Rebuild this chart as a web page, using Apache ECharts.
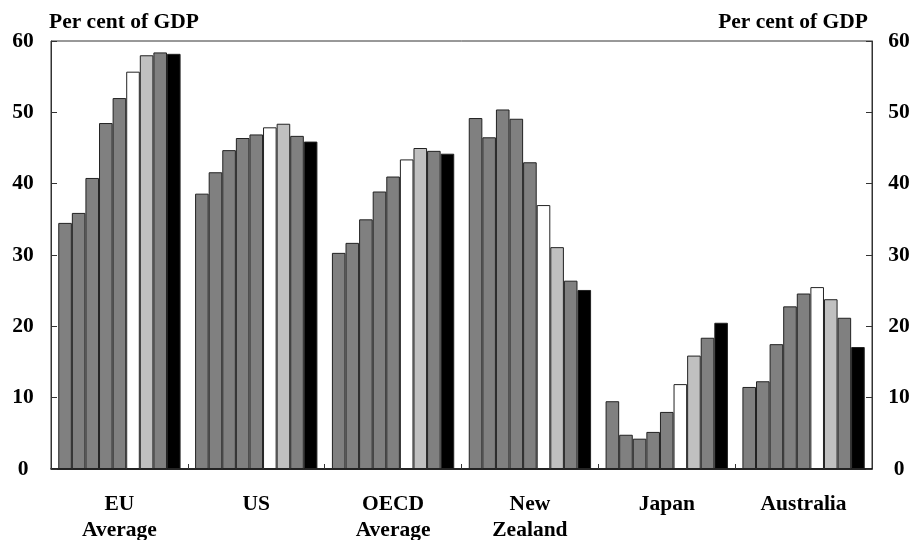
<!DOCTYPE html>
<html><head><meta charset="utf-8">
<script src="https://cdn.jsdelivr.net/npm/echarts@6/dist/echarts.min.js"></script>
<style>html,body{margin:0;padding:0;background:#fff}#c{width:913px;height:540px}</style>
</head><body><div id="c"></div>
<script>
const categories = ['EU\nAverage', 'US', 'OECD\nAverage', 'New\nZealand', 'Japan', 'Australia'];
const s1 = [34.5, 38.6, 30.3, 49.2, 9.5, 11.5];
const s2 = [35.9, 41.6, 31.7, 46.5, 4.8, 12.3];
const s3 = [40.8, 44.7, 35.0, 50.4, 4.25, 17.5];
const s4 = [48.5, 46.4, 38.9, 49.1, 5.2, 22.8];
const s5 = [52.0, 46.9, 41.0, 43.0, 8.0, 24.6];
const s6 = [55.7, 47.9, 43.4, 37.0, 11.9, 25.5];
const s7 = [58.0, 48.4, 45.0, 31.1, 15.9, 23.8];
const s8 = [58.4, 46.7, 44.6, 26.4, 18.4, 21.2];
const s9 = [58.2, 45.9, 44.2, 25.1, 20.5, 17.1];
const yTicks = [0, 10, 20, 30, 40, 50, 60];

const allSeries = [s1, s2, s3, s4, s5, s6, s7, s8, s9];
const fills = ['#808080','#808080','#808080','#808080','#808080','#ffffff','#c0c0c0','#808080','#000000'];
const font = 'Liberation Serif';
const fs = 21.5;
const chart = echarts.init(document.getElementById('c'), null, {renderer: 'canvas'});
const yAxisBase = (pos) => ({
  type: 'value', position: pos, min: yTicks[0], max: yTicks[yTicks.length - 1], interval: 10,
  name: 'Per cent of GDP', nameLocation: 'end', nameGap: 8,
  nameTextStyle: {fontFamily: font, fontWeight: 'bold', fontSize: fs, color: '#000',
    align: pos === 'left' ? 'left' : 'right', padding: pos === 'left' ? [0,0,0,-2] : [0,4,0,0]},
  axisLine: {show: true, lineStyle: {color: '#333', width: 1}},
  axisTick: {show: true, inside: true, length: 6, lineStyle: {color: '#333'}},
  splitLine: {show: false},
  axisLabel: {fontFamily: font, fontWeight: 'bold', fontSize: fs, color: '#000',
    align: 'center', margin: pos === 'left' ? 28 : 27}
});
chart.setOption({
  animation: false,
  grid: {left: 51, right: 41, top: 41, bottom: 71, outerBoundsMode: 'none', containLabel: false,
    show: true, borderColor: '#333', borderWidth: 1},
  xAxis: {
    type: 'category', data: categories,
    axisLine: {show: true, lineStyle: {color: '#000', width: 1.5}},
    axisTick: {show: true, inside: true, length: 5, lineStyle: {color: '#333'}},
    axisLabel: {fontFamily: font, fontWeight: 'bold', fontSize: fs, color: '#000', margin: 22, lineHeight: 26.5}
  },
  yAxis: [yAxisBase('left'), yAxisBase('right')],
  series: allSeries.map((d, i) => ({
    type: 'bar', data: d, barGap: '0%', barCategoryGap: '10.6%',
    itemStyle: {color: fills[i], borderColor: '#222', borderWidth: 1}
  }))
});
</script></body></html>
